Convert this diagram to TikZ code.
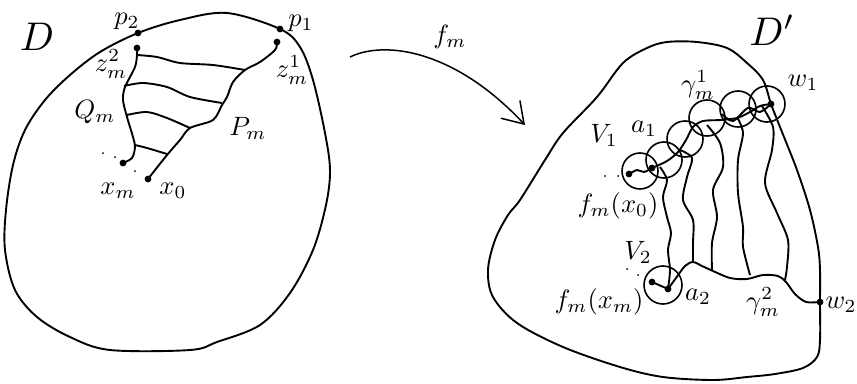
\documentclass[tikz,border=0pt]{standalone}
\usetikzlibrary{arrows.meta}
\begin{document}
\begin{tikzpicture}[x=1pt,y=-1pt,line width=1.9pt,
	etiq/.style={scale=2.65},
	gran/.style={scale=4}]

	\useasboundingbox (0,0) rectangle (857,383);

	% Domini D
	\coordinate (p2) at (138,33);
	\coordinate (p1) at (280,29);
	\coordinate (z2) at (137,48);
	\coordinate (z1) at (277,42);
	\coordinate (xm) at (123,163);
	\coordinate (x0) at (148,179);

	\draw plot[smooth cycle,tension=0.55] coordinates {(p2) (180,20) (227,13) (p1) (300,47) (313,80) (325,133) (330,170) (326,205) (313,250) (290,293) (260,325) (217,342) (190,350) (110,350) (70,337) (37,317) (15,290) (5,250) (6,210) (13,165) (25,130) (45,100) (70,75) (100,52)};

	\draw plot[smooth] coordinates {(z2) (137,55) (135,67) (125,87) (123,100) (127,117) (133,137) (135,147) (132,158) (xm)};
	\draw plot[smooth] coordinates {(z1) (275,50) (260,62) (245,70) (233,82) (227,97) (222,105) (213,120) (190,128) (180,140) (167,155) (x0)};

	\draw plot[smooth] coordinates {(137,55) (157,57) (180,63) (213,65) (245,70)};
	\draw plot[smooth] coordinates {(124,86) (143,83) (167,87) (190,97) (222,103)};
	\draw plot[smooth] coordinates {(127,115) (147,112) (167,118) (190,128)};
	\draw plot[smooth] coordinates {(135,145) (147,148) (167,154)};

	\fill (p2) circle (3.4pt);
	\fill (p1) circle (3.4pt);
	\fill (z2) circle (3.4pt);
	\fill (z1) circle (3.4pt);
	\fill (xm) circle (3.4pt);
	\fill (x0) circle (3.4pt);
	\fill (103,153) circle (1pt);
	\fill (115,157) circle (1pt);
	\fill (135,171) circle (1pt);

	\node[gran] (lD) at (37,37) {$D$};
	\node[etiq] (lp2) at (127,21) {$p_2$};
	\node[etiq] (lp1) at (301,23) {$p_1$};
	\node[etiq] (lz2) at (111,64) {$z_m^2$};
	\node[etiq] (lz1) at (292,70) {$z_m^1$};
	\node[etiq] (lQ) at (95,112) {$Q_m$};
	\node[etiq] (lP) at (248,128) {$P_m$};
	\node[etiq] (lxm) at (118,191) {$x_m$};
	\node[etiq] (lx0) at (173,191) {$x_0$};

	% Aplicacio f_m
	\coordinate (fa) at (350,57);
	\coordinate (fb) at (525,125);
	\draw[line width=1.5pt,-{Straight Barb[length=20pt,width=26pt]}] (fa) .. controls (385,40) and (455,50) .. (fb);
	\node[etiq] (lf) at (450,37) {$f_m$};

	% Domini D'
	\coordinate (w1) at (771,104);
	\coordinate (w2) at (820,302);
	\coordinate (fx0) at (629,174);
	\coordinate (a1) at (652,168);
	\coordinate (fxm) at (652,282);
	\coordinate (a2) at (668,289);
	\coordinate (V1) at (640,171);
	\coordinate (c2) at (664,160);
	\coordinate (c3) at (685,139);
	\coordinate (c4) at (707,118);
	\coordinate (c5) at (738,109);
	\coordinate (c6) at (767,104);
	\coordinate (V2) at (663,285);

	\draw plot[smooth cycle,tension=0.55] coordinates {(520,200) (545,160) (563,133) (597,97) (623,63) (647,48) (667,42) (697,42) (727,48) (747,63) (763,80) (w1) (780,127) (797,170) (810,210) (818,247) (820,270) (w2) (820,340) (817,357) (803,368) (775,374) (747,377) (713,380) (663,377) (620,367) (563,347) (517,323) (493,297) (488,270) (495,240) (508,215)};

	\draw[line width=1.6pt] (V1) circle (18pt);
	\draw[line width=1.6pt] (c2) circle (18pt);
	\draw[line width=1.6pt] (c3) circle (18pt);
	\draw[line width=1.6pt] (c4) circle (18pt);
	\draw[line width=1.6pt] (c5) circle (18pt);
	\draw[line width=1.6pt] (c6) circle (18pt);
	\draw[line width=1.6pt] (V2) circle (19pt);

	\draw plot[smooth] coordinates {(fx0) (637,170) (644,172) (a1)};
	\draw plot[smooth] coordinates {(a1) (667,161) (678,152) (686,140) (693,127) (703,121) (720,120) (737,118) (750,112) (760,106) (w1)};
	\draw plot[smooth] coordinates {(722,114) (733,121) (748,108) (760,112) (w1)};

	\draw plot[smooth] coordinates {(660,167) (667,180) (663,197) (667,217) (671,233) (668,250) (670,270) (a2)};
	\draw plot[smooth] coordinates {(680,150) (692,158) (687,177) (683,200) (693,220) (693,243) (693,262)};
	\draw plot[smooth] coordinates {(707,125) (720,143) (723,167) (713,190) (717,217) (712,243) (712,270)};
	\draw plot[smooth] coordinates {(737,117) (743,133) (738,160) (738,193) (743,227) (743,247) (750,275)};
	\draw plot[smooth] coordinates {(762,106) (773,127) (772,150) (765,183) (777,213) (788,240) (787,267) (785,280)};

	\draw (fxm) -- (a2);
	\draw plot[smooth] coordinates {(a2) (676,278) (685,266) (693,262) (702,266) (713,271) (730,278) (747,279) (763,275) (778,276) (786,282) (795,294) (806,302) (w2)};

	\fill (fx0) circle (3.4pt);
	\fill (a1) circle (3.4pt);
	\fill (w1) circle (3.4pt);
	\fill (fxm) circle (3.4pt);
	\fill (a2) circle (3.4pt);
	\fill (w2) circle (3.4pt);
	\fill (605,176) circle (1pt);
	\fill (618,176) circle (1pt);
	\fill (627,269) circle (1pt);
	\fill (638,275) circle (1pt);

	\node[gran] (lDp) at (772,30) {$D'$};
	\node[etiq] (lg1) at (698,85) {$\gamma_m^1$};
	\node[etiq] (lw1) at (803,83) {$w_1$};
	\node[etiq] (lV1) at (604,135) {$V_1$};
	\node[etiq] (la1) at (644,129) {$a_1$};
	\node[etiq] (lfx0) at (618,206) {$f_m(x_0)$};
	\node[etiq] (lV2) at (638,252) {$V_2$};
	\node[etiq] (lfxm) at (599,302) {$f_m(x_m)$};
	\node[etiq] (la2) at (698,297) {$a_2$};
	\node[etiq] (lg2) at (763,302) {$\gamma_m^2$};
	\node[etiq] (lw2) at (841,305) {$w_2$};

\end{tikzpicture}
\end{document}
